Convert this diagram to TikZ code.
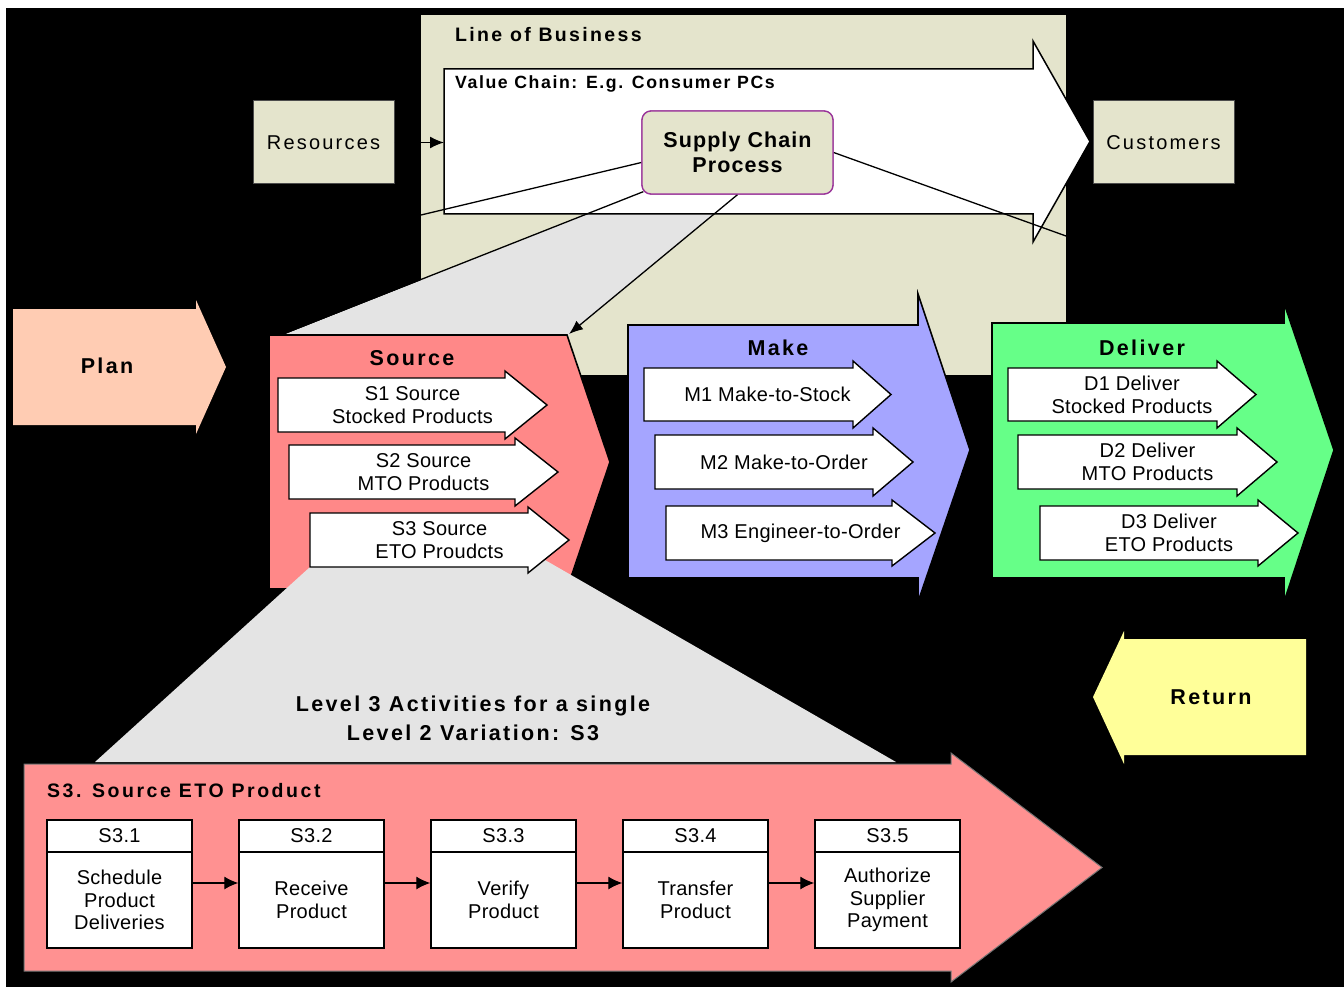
\documentclass[tikz,border=0pt]{standalone}
\usepackage{fontspec}
\setmainfont{Liberation Sans}
\newfontfamily\ftitle{Liberation Sans}[LetterSpace=11]
\newfontfamily\fscp{Liberation Sans}[LetterSpace=5]
\newfontfamily\flob{Liberation Sans}[LetterSpace=12]
\newfontfamily\fvc{Liberation Sans}[LetterSpace=9]
\newfontfamily\fsthree{Liberation Sans}[LetterSpace=13]
\newfontfamily\fres{Liberation Sans}[LetterSpace=11]
\newfontfamily\freg{Liberation Sans}[LetterSpace=1.5]
\usetikzlibrary{arrows.meta,calc}

\definecolor{lob}{RGB}{228,228,204}
\definecolor{wedge}{RGB}{228,228,228}
\definecolor{plan}{RGB}{255,204,179}
\definecolor{src}{RGB}{255,136,136}
\definecolor{srcbig}{RGB}{255,145,145}
\definecolor{make}{RGB}{165,165,255}
\definecolor{deliv}{RGB}{102,255,136}
\definecolor{ret}{RGB}{255,255,153}
\definecolor{scpedge}{RGB}{153,51,153}

% right-pointing block arrow: style, left x, top y, bottom y, head x, head overhang, tip x
\newcommand\rblock[7]{%
  \path[#1] (#2,#3) -- (#5,#3) -- (#5,#3-#6) -- (#7,{(#3+#4)/2})
    -- (#5,#4+#6) -- (#5,#4) -- (#2,#4) -- cycle;}

\begin{document}
\begin{tikzpicture}[x=1pt,y=-1pt,
  title/.style={font=\ftitle\bfseries\fontsize{21.5}{26}\selectfont, inner sep=0pt},
  scptext/.style={font=\fscp\bfseries\fontsize{21.5}{25}\selectfont, align=center, inner sep=0pt},
  lobtext/.style={font=\flob\bfseries\fontsize{19.5}{23}\selectfont, inner sep=0pt, anchor=west},
  vctext/.style={font=\fvc\bfseries\fontsize{17.7}{21}\selectfont, inner sep=0pt, anchor=west},
  sthreetext/.style={font=\fsthree\bfseries\fontsize{19.5}{23}\selectfont, inner sep=0pt, anchor=west},
  leveltext/.style={font=\ftitle\bfseries\fontsize{21.5}{29}\selectfont, align=center, inner sep=0pt},
  subtext/.style={font=\freg\fontsize{20}{23}\selectfont, align=center, inner sep=0pt},
  endbox/.style={draw=black!70, line width=1pt, fill=lob, minimum width=141pt, minimum height=83pt,
    font=\fres\fontsize{20}{23}\selectfont},
  subarrow/.style={fill=white, draw=black, line width=1.4pt, line join=miter},
  bigshape/.style={draw=black, line width=1.6pt, line join=miter},
  hdr/.style={draw=black, line width=1.4pt, fill=white, minimum width=145pt, minimum height=32pt,
    inner sep=0pt, font=\freg\fontsize{20}{23}\selectfont},
  stepbox/.style={draw=black, line width=1.4pt, fill=white, minimum width=145pt, minimum height=96pt,
    inner sep=0pt, align=center, font=\freg\fontsize{20}{22.5}\selectfont},
  conn/.style={draw=black, line width=1.3pt, -{Latex[length=14pt,width=13pt]}},
  thin/.style={draw=black, line width=1.3pt}
]
\useasboundingbox (0,0) rectangle (1344,987);
\fill[white] (0,0) rectangle (1344,987);
\fill[black] (6,8) rectangle (1344,987);

% line of business panel
\fill[lob] (421,15) rectangle (1066,375);
\node[lobtext] (lobt) at (455,35) {Line of Business};

% zoom wedge from the process box down to Source
\fill[wedge] (643,192) -- (737,195) -- (569,335) -- (283,335) -- cycle;

% value chain arrow
\rblock{fill=white, draw=black, line width=1.5pt, line join=miter}{444}{69}{214}{1033}{28}{1090}
\node[vctext] (vct) at (455,84) {Value Chain: E.g. Consumer PCs};

% end boxes
\node[endbox] (res) at (323.5,142.5) {Resources};
\node[endbox] (cust) at (1163.5,142.5) {Customers};
\coordinate (vcin) at (444,142.5);
\draw[black, line width=1.4pt, -{Latex[length=14pt,width=12pt]}] (res.east) -- (vcin);

% supply chain process box and its guide lines
\node[draw=scpedge, line width=1.3pt, fill=lob, rounded corners=9pt,
  minimum width=191pt, minimum height=83pt, inner sep=0pt] (scp) at (737.5,152.5) {};
\coordinate (lobL) at (421,215);
\coordinate (lobR) at (1066,236);
\coordinate (wedgeL) at (283,334);
\coordinate (wedgeR) at (569,334);
\draw[thin] ($(scp.west)+(0,10)$) -- (lobL);
\draw[thin] (scp.east) -- (lobR);
\draw[thin] ($(scp.south west)+(2,-3)$) -- (wedgeL);
\draw[black, line width=1.3pt, -{Latex[length=14pt,width=11pt]}] (scp.south) -- (wedgeR);
\node[draw=scpedge, line width=1.3pt, fill=lob, rounded corners=9pt,
  minimum width=191pt, minimum height=83pt, scptext] (scpt) at (737.5,152.5) {Supply Chain\\Process};

% Plan
\rblock{fill=plan}{13}{309}{425}{196}{9}{226}
\node[title] (plant) at (107,366) {Plan};

% Source
\path[fill=src, bigshape] (269,335) -- (567,335) -- (610,462) -- (567,589) -- (269,589) -- cycle;

% zoom wedge from S3 down to its level 3 view
\fill[wedge] (310,567) -- (545,560) -- (896,762) -- (95,762) -- cycle;

\node[title] (srct) at (412,358) {Source};
\rblock{subarrow}{278}{378}{432}{505}{7}{547}
\node[subtext] (s1) at (412.5,405) {S1 Source\\Stocked Products};
\rblock{subarrow}{289}{445}{499}{515}{7}{558}
\node[subtext] (s2) at (423.5,472) {S2 Source\\MTO Products};
\rblock{subarrow}{310}{513}{567}{528}{6}{569}
\node[subtext] (s3) at (439.5,540) {S3 Source\\ETO Proudcts};

% Make
\path[fill=make, bigshape] (628,325) -- (918,325) -- (918,294) -- (970,450) -- (918,602)
  -- (918,578) -- (628,578) -- cycle;
\node[title] (maket) at (778,348) {Make};
\rblock{subarrow}{644}{368}{421}{853}{7}{891}
\node[subtext] (m1) at (767.5,394.5) {M1 Make-to-Stock};
\rblock{subarrow}{655}{435}{489}{873}{7}{913}
\node[subtext] (m2) at (784,462) {M2 Make-to-Order};
\rblock{subarrow}{666}{506}{560}{892}{6}{935}
\node[subtext] (m3) at (800.5,533) {M3 Engineer-to-Order};

% Deliver
\path[fill=deliv, bigshape] (992,323) -- (1284,323) -- (1284,303) -- (1334,450) -- (1284,602)
  -- (1284,578) -- (992,578) -- cycle;
\node[title] (delt) at (1142,348) {Deliver};
\rblock{subarrow}{1008}{368}{421}{1217}{7}{1256}
\node[subtext] (d1) at (1132,394.5) {D1 Deliver\\Stocked Products};
\rblock{subarrow}{1018}{435}{489}{1237}{7}{1277}
\node[subtext] (d2) at (1147.5,462) {D2 Deliver\\MTO Products};
\rblock{subarrow}{1040}{506}{560}{1258}{6}{1298}
\node[subtext] (d3) at (1169,533) {D3 Deliver\\ETO Products};

% Return
\path[fill=ret] (1306,639) -- (1124,639) -- (1124,631) -- (1093,697) -- (1124,764)
  -- (1124,755) -- (1306,755) -- cycle;
\node[title] (rett) at (1211,697) {Return};

% level 3 caption
\node[leveltext] (lvl) at (473,718) {Level 3 Activities for a single\\Level 2 Variation: S3};

% S3 level 3 arrow
\rblock{fill=srcbig, draw=black!55, line width=1pt, line join=miter}{24}{764}{971}{951}{11}{1102}
\node[sthreetext] (s3t) at (47,791) {S3. Source ETO Product};

\node[hdr] (h1) at (119.5,836) {S3.1};
\node[hdr] (h2) at (311.5,836) {S3.2};
\node[hdr] (h3) at (503.5,836) {S3.3};
\node[hdr] (h4) at (695.5,836) {S3.4};
\node[hdr] (h5) at (887.5,836) {S3.5};
\node[stepbox] (b1) at (119.5,900) {Schedule\\Product\\Deliveries};
\node[stepbox] (b2) at (311.5,900) {Receive\\Product};
\node[stepbox] (b3) at (503.5,900) {Verify\\Product};
\node[stepbox] (b4) at (695.5,900) {Transfer\\Product};
\node[stepbox] (b5) at (887.5,900) {Authorize\\Supplier\\Payment};

\coordinate (arow) at (0,883);
\draw[conn] (b1.east |- arow) -- (b2.west |- arow);
\draw[conn] (b2.east |- arow) -- (b3.west |- arow);
\draw[conn] (b3.east |- arow) -- (b4.west |- arow);
\draw[conn] (b4.east |- arow) -- (b5.west |- arow);
\end{tikzpicture}
\end{document}
